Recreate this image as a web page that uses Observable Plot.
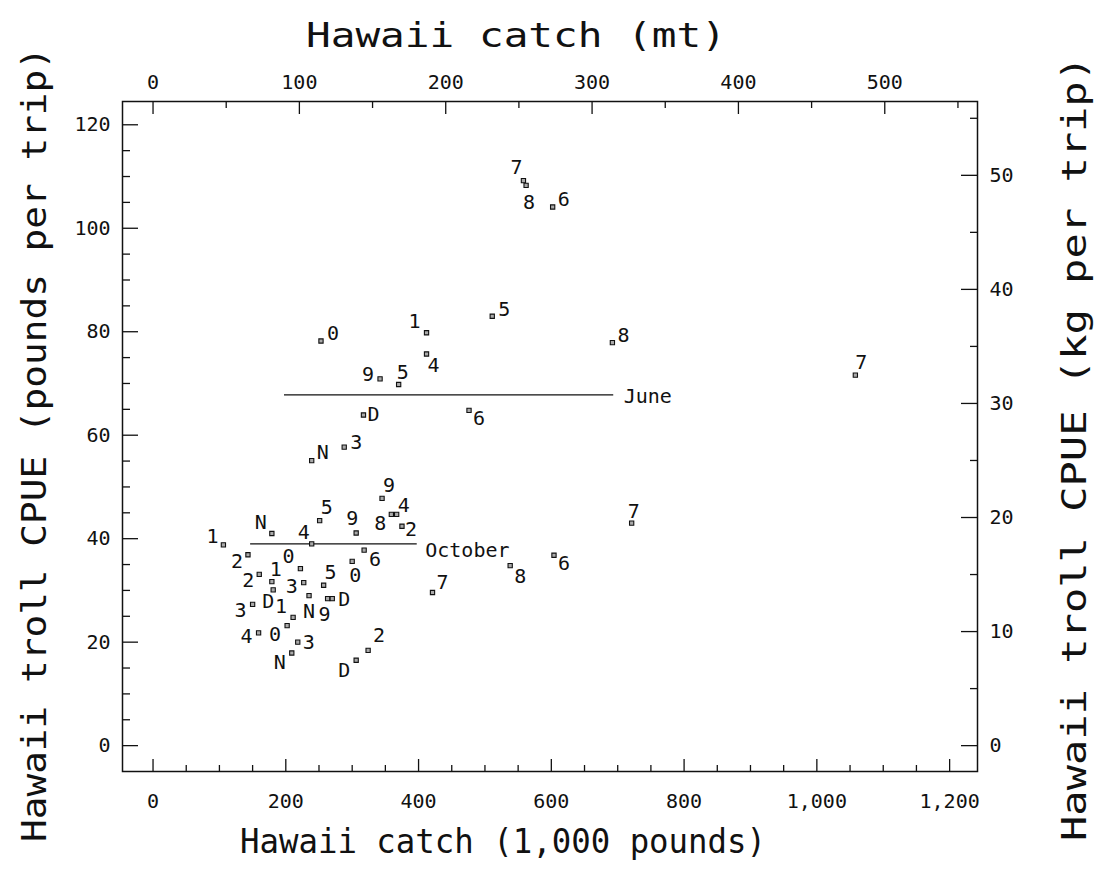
<!DOCTYPE html>
<html><head><meta charset="utf-8">
<script src="https://cdn.jsdelivr.net/npm/d3@7"></script>
<script src="https://cdn.jsdelivr.net/npm/@observablehq/plot@0.6"></script>
<style>html,body{margin:0;padding:0;background:#fff;}</style>
</head><body><div id="chart"></div>
<script>
// ---- data ----
const pointLabels = ["7","8","6","5","1","0","8","4","9","5","7","D","6","3","N",
  "1","N","4","5","9","9","8","4","2","2","0","6","0","5","3","1","D","2","3","1","N","9","D","4","0","3","N","D","2","7","7","6","8"];
// Hawaii catch, 1,000 pounds
const catchK = [558,562,602,511,412,253,692,412,342,370,1058,317,476,288,239,
  106,179,239,251,306,345,359,367,375,143,222,318,300,257,227,179,181,160,150,211,235,263,270,159,202,218,209,306,324,421,721,604,538];
// Hawaii troll CPUE, pounds per trip
const cpue = [109.2,108.3,104.1,83.0,79.8,78.2,77.9,75.7,70.9,69.8,71.6,63.9,64.8,57.7,55.1,
  38.8,41.0,39.0,43.5,41.1,47.8,44.7,44.7,42.4,36.9,34.2,37.8,35.6,31.0,31.5,31.7,30.1,33.1,27.3,24.8,29.0,28.4,28.4,21.8,23.2,20.0,17.9,16.5,18.4,29.6,43.0,36.8,34.8];
// reference lines
const refNames = ["June","October"];
const refY = [67.8, 39.0];
const refX1 = [198, 147];
const refX2 = [694, 398];
// tick values
const bottomTicks = [0,200,400,600,800,1000,1200];
const bottomMinor = [50,100,150,250,300,350,450,500,550,650,700,750,850,900,950,1050,1100,1150];
const topTicksMt = [0,100,200,300,400,500];
const topMinorMt = [50,150,250,350,450,550];
const leftTicks = [0,20,40,60,80,100,120];
const leftMinor = [5,10,15,25,30,35,45,50,55,65,70,75,85,90,95,105,110,115];
const rightTicksKg = [0,10,20,30,40,50];
const rightMinorKg = [5,15,25,35,45,55];
// axis titles
const titleTop = "Hawaii catch (mt)";
const titleBottom = "Hawaii catch (1,000 pounds)";
const titleLeft = "Hawaii troll CPUE (pounds per trip)";
const titleRight = "Hawaii troll CPUE (kg per trip)";

// ---- layout / style (not data) ----
const LB_PER_MT = 2.20462;     // thousand lb per metric ton
const KG_PER_LB = 0.45359237;
// label nudges in px (dx, dy) per point
const labelNudge = [[-7,-13],[3,17],[11,-7],[12,-7],[-12,-11],[12,-7],[11,-7],[7,12],[-12,-4],[4,-12],[6,-13],[10,0],[10,8],[12,-5],[11,-8],
  [-11,-8],[-11,-11],[-8,-11],[7,-13],[-4,-14],[7,-13],[-11,9],[7,-9],[9,3],[-11,7],[-12,-12],[11,10],[3,14],[7,-13],[-12,4],[4,-12],[-5,12],[-11,6],[-12,6],[-12,-11],[0,16],[-3,16],[12,1],[-12,4],[-12,9],[11,0],[-12,10],[-12,10],[11,-15],[10,-10],[2,-12],[10,8],[10,11]];

const WIDTH = 1101, HEIGHT = 877;
const ML = 122, MR = 124, MT = 101, MB = 106;
const PW = WIDTH - ML - MR, PH = HEIGHT - MT - MB;

const points = pointLabels.map((l, i) => ({label: l, x: catchK[i], y: cpue[i], i}));
const refs = refNames.map((n, i) => ({name: n, y: refY[i], x1: refX1[i], x2: refX2[i]}));

const ink = "#111";
const textMarks = points.map(p => Plot.text([p], {
  x: "x", y: "y", text: "label", dx: labelNudge[p.i][0], dy: labelNudge[p.i][1], fill: ink
}));

const svg = Plot.plot({
  width: WIDTH, height: HEIGHT,
  marginLeft: ML, marginRight: MR, marginTop: MT, marginBottom: MB,
  x: {domain: [-46, 1242], axis: null},
  y: {domain: [-5, 124.5], axis: null},
  style: {fontFamily: "'DejaVu Sans Mono', monospace", fontSize: "20px", background: "white", color: ink},
  marks: [
    Plot.frame({stroke: ink, strokeWidth: 1.5}),
    // inward ticks
    Plot.ruleX(bottomTicks, {insetTop: PH - 12, stroke: ink, strokeWidth: 1.3}),
    Plot.ruleX(bottomMinor, {insetTop: PH - 6, stroke: ink, strokeWidth: 1.3}),
    Plot.ruleX(topTicksMt.map(m => m * LB_PER_MT), {insetBottom: PH - 13, stroke: ink, strokeWidth: 1.3}),
    Plot.ruleX(topMinorMt.map(m => m * LB_PER_MT), {insetBottom: PH - 7, stroke: ink, strokeWidth: 1.3}),
    Plot.ruleY(leftTicks, {insetRight: PW - 16, stroke: ink, strokeWidth: 1.3}),
    Plot.ruleY(leftMinor, {insetRight: PW - 8, stroke: ink, strokeWidth: 1.3}),
    Plot.ruleY(rightTicksKg.map(k => k / KG_PER_LB), {insetLeft: PW - 16, stroke: ink, strokeWidth: 1.3}),
    Plot.ruleY(rightMinorKg.map(k => k / KG_PER_LB), {insetLeft: PW - 7, stroke: ink, strokeWidth: 1.3}),
    // tick labels
    Plot.axisX({anchor: "bottom", ticks: bottomTicks, tickSize: 0, tickPadding: 22, tickFormat: d3.format(","), label: null}),
    Plot.axisX({anchor: "top", ticks: topTicksMt.map(m => m * LB_PER_MT), tickSize: 0, tickPadding: 13,
      tickFormat: d => String(Math.round(d / LB_PER_MT)), label: null}),
    Plot.axisY({anchor: "left", ticks: leftTicks, tickSize: 0, tickPadding: 12, label: null}),
    Plot.axisY({anchor: "right", ticks: rightTicksKg.map(k => k / KG_PER_LB), tickSize: 0, tickPadding: 12,
      tickFormat: d => String(Math.round(d * KG_PER_LB)), label: null}),
    // reference lines
    Plot.ruleY(refs, {y: "y", x1: "x1", x2: "x2", stroke: ink, strokeWidth: 1.4}),
    Plot.text([refs[0]], {x: "x2", y: "y", text: "name", textAnchor: "start", dx: 10, dy: 2, fill: ink}),
    Plot.text([refs[1]], {x: "x2", y: "y", text: "name", textAnchor: "start", dx: 8, dy: 7, fill: ink}),
    // points
    Plot.dot(points, {x: "x", y: "y", symbol: "square", r: 2.4, stroke: ink, strokeWidth: 1.1, fill: "#aaa"}),
    ...textMarks,
    // axis titles
    Plot.text([titleTop], {frameAnchor: "top", textAnchor: "middle", dx: -34, dy: -79, fontSize: 34, fill: ink}),
    Plot.text([titleBottom], {frameAnchor: "bottom", textAnchor: "middle", dx: -47, dy: 81, fontSize: 34, fill: ink}),
    Plot.text([titleLeft], {frameAnchor: "left", textAnchor: "middle", rotate: -90, dx: -87, dy: 8, fontSize: 34, fill: ink}),
    Plot.text([titleRight], {frameAnchor: "right", textAnchor: "middle", rotate: -90, dx: 98, dy: 12, fontSize: 34, fill: ink})
  ]
});

const lengths = [[titleTop, 420], [titleBottom, 526], [titleLeft, 795], [titleRight, 785]];
for (const [t, len] of lengths) {
  d3.select(svg).selectAll("text")
    .filter(function() { return this.textContent === t; })
    .attr("textLength", len).attr("lengthAdjust", "spacingAndGlyphs");
}
document.getElementById("chart").appendChild(svg);
</script>
</body></html>
